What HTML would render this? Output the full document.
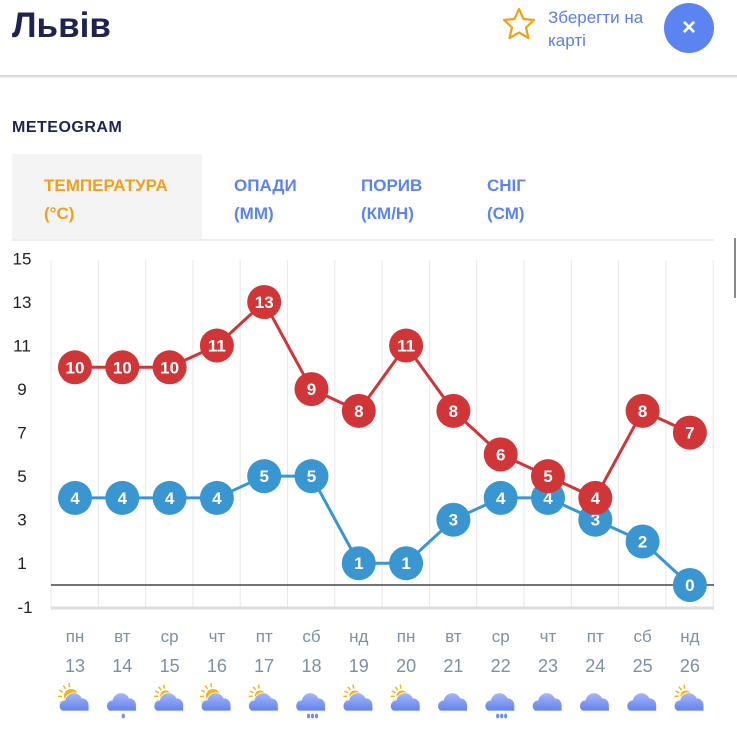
<!DOCTYPE html>
<html><head><meta charset="utf-8"><style>
body{margin:0;width:737px;height:740px;background:#fff;font-family:"Liberation Sans",sans-serif;overflow:hidden;position:relative}
.a{position:absolute}
</style></head><body>
<div class="a" style="left:12px;top:6px;font-size:35px;font-weight:bold;color:#1e2350">Львів</div>
<svg class="a" style="left:500px;top:5px" width="40" height="36"><polygon points="19,4 23.5,14 34,15 26,22.5 28.5,33 19,27.5 9.5,33 12,22.5 4,15 14.5,14" fill="none" stroke="#f2a01c" stroke-width="2.2" stroke-linejoin="round"/></svg>
<div class="a" style="left:548px;top:6px;font-size:17px;line-height:23px;color:#5b7de8">Зберегти на<br>карті</div>
<div class="a" style="left:664px;top:3px;width:50px;height:50px;border-radius:50%;background:#5b84f0;color:#fff;font-size:24px;font-weight:bold;text-align:center;line-height:50px">×</div>
<div class="a" style="left:0;top:75px;width:737px;height:3px;background:linear-gradient(#ccc,#f4f4f4)"></div>
<div class="a" style="left:12px;top:119px;font-size:16px;font-weight:bold;color:#1e2350;letter-spacing:0.5px">METEOGRAM</div>
<div class="a" style="left:12px;top:154px;width:190px;height:85px;background:#f4f4f4"></div>
<div class="a" style="left:12px;top:239px;width:702px;height:2px;background:#eee"></div>
<div class="a" style="left:44px;top:172px;font-size:17px;font-weight:bold;line-height:28px;color:#f2a01c">ТЕМПЕРАТУРА<br>(°C)</div>
<div class="a" style="left:234px;top:172px;font-size:17px;font-weight:bold;line-height:28px;color:#5b84f0">ОПАДИ<br>(ММ)</div>
<div class="a" style="left:361px;top:172px;font-size:17px;font-weight:bold;line-height:28px;color:#5b84f0">ПОРИВ<br>(КМ/Н)</div>
<div class="a" style="left:487px;top:172px;font-size:17px;font-weight:bold;line-height:28px;color:#5b84f0">СНІГ<br>(СМ)</div>
<div class="a" style="left:734px;top:238px;width:2px;height:60px;background:#888"></div>
<svg class="a" style="left:0;top:0" width="737" height="740" id="c"></svg>
<script>
const s=document.getElementById('c');let h='<defs><linearGradient id="g" x1="0" y1="0" x2="0" y2="1"><stop offset="0" stop-color="#aab8f5"/><stop offset="1" stop-color="#5f80f0"/></linearGradient></defs>';
const X=i=>75+i*47.3, Y=v=>585-21.77*v;
for(let k=0;k<=14;k++){const x=51+k*47.3;h+=`<line x1="${x}" y1="260" x2="${x}" y2="608" stroke="#e8e8e8" stroke-width="1"/>`;}
h+=`<line x1="51" y1="608" x2="714" y2="608" stroke="#ddd" stroke-width="3"/>`;
h+=`<line x1="51" y1="585" x2="714" y2="585" stroke="#222" stroke-width="1.2"/>`;
for(let v=15;v>=-1;v-=2)h+=`<text x="${v<0?25:22}" y="${Y(v)+6}" font-size="17" fill="#222" text-anchor="middle" font-family="Liberation Sans">${v}</text>`;
const R=[10,10,10,11,13,9,8,11,8,6,5,4,8,7],B=[4,4,4,4,5,5,1,1,3,4,4,3,2,0];
function ser(d,c){let p=d.map((v,i)=>X(i)+','+Y(v)).join(' ');h+=`<polyline points="${p}" fill="none" stroke="${c}" stroke-width="3"/>`;
d.forEach((v,i)=>{h+=`<circle cx="${X(i)}" cy="${Y(v)}" r="17" fill="${c}"/><text x="${X(i)}" y="${Y(v)+6}" font-size="17" font-weight="bold" fill="#fff" text-anchor="middle" font-family="Liberation Sans">${v}</text>`;});}
ser(B,'#3a96d0');ser(R,'#d03538');
const dn=['пн','вт','ср','чт','пт','сб','нд','пн','вт','ср','чт','пт','сб','нд'];
const ic=['S','r','s','S','s','R','s','s','c','R','c','c','c','s'];
for(let i=0;i<14;i++){const x=X(i);
h+=`<text x="${x}" y="642" font-size="17" fill="#7d8fa3" text-anchor="middle" font-family="Liberation Sans">${dn[i]}</text>`;
h+=`<text x="${x}" y="672" font-size="18" fill="#7d8fa3" text-anchor="middle" font-family="Liberation Sans">${13+i}</text>`;
const y=700;
if(ic[i]=='s'||ic[i]=='S'){const r=ic[i]=='S'?7:5.5;h+=`<circle cx="${x-4}" cy="${y-4}" r="${r}" fill="#f5b415"/>`;for(let a=0;a<7;a++){const t=Math.PI*0.55+a*Math.PI/6.5;h+=`<line x1="${x-4+Math.cos(t)*(r+2)}" y1="${y-4-Math.sin(t)*(r+2)}" x2="${x-4+Math.cos(t)*(r+6)}" y2="${y-4-Math.sin(t)*(r+6)}" stroke="#f5b415" stroke-width="1.5"/>`;}}
h+=`<g fill="url(#g)" stroke="#fff" stroke-width="0.8"><path d="M${x-13},${y+11} a6,6 0 0 1 3,-11 a9,9 0 0 1 17,-2 a7,7 0 0 1 7,7 v6 z"/></g>`;
if(ic[i]=='r')h+=`<ellipse cx="${x+1}" cy="${y+16}" rx="1.6" ry="2.4" fill="#6d8ef2"/>`;
if(ic[i]=='R')for(let d=-4;d<=4;d+=4)h+=`<ellipse cx="${x+1+d}" cy="${y+16}" rx="1.6" ry="2.4" fill="#6d8ef2"/>`;
}
s.innerHTML=h;
</script>
</body></html>
